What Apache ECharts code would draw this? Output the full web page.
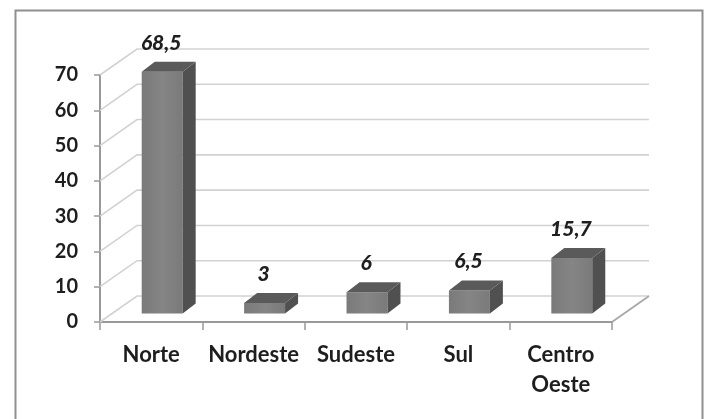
<!DOCTYPE html>
<html>
<head>
<meta charset="utf-8">
<script src="https://cdn.jsdelivr.net/npm/echarts@6/dist/echarts.min.js"></script>
<style>
html,body{margin:0;padding:0;background:#fff;}
#chart{width:707px;height:419px;}
</style>
</head>
<body>
<div id="chart"></div>
<script>
// ---- data ----
const categories = ['Norte', 'Nordeste', 'Sudeste', 'Sul', 'Centro\nOeste'];
const values = [68.5, 3, 6, 6.5, 15.7];
const yTicks = [0, 10, 20, 30, 40, 50, 60, 70];

// ---- style constants ----
const FONT = 'Lato, "Open Sans", sans-serif';
const TEXT = '#1e1e1e';
const WALL_D = [37, -26];   // back wall depth offset
const BAR_O = [11, -8.5];   // bar offset from front plane
const BAR_D = [13, -10];    // bar depth

const chart = echarts.init(document.getElementById('chart'), null, {renderer: 'canvas'});

const option = {
  backgroundColor: '#fff',
  animation: false,
  graphic: [{
    type: 'rect', left: 13, top: 8, z: 100,
    shape: {width: 687, height: 480},
    style: {fill: 'none', stroke: '#8f8f8f', lineWidth: 2}
  }],
  grid: {left: 100, top: 75, width: 512, height: 247},
  xAxis: {
    type: 'category',
    data: categories,
    axisLine: {lineStyle: {color: '#999', width: 2}},
    axisTick: {show: true, length: 8, lineStyle: {color: '#999', width: 1.5}},
    axisLabel: {
      interval: 0, hideOverlap: false,
      color: TEXT, fontFamily: FONT, fontWeight: 'bold', fontSize: 22,
      lineHeight: 30, margin: 18
    },
    splitLine: {show: false}
  },
  yAxis: {
    type: 'value', min: 0, max: 70, interval: 10,
    axisLine: {show: true, lineStyle: {color: '#999', width: 2}},
    axisTick: {show: true, length: 6, lineStyle: {color: '#999', width: 1.5}},
    axisLabel: {color: TEXT, fontFamily: FONT, fontWeight: 'bold', fontSize: 20, margin: 22},
    splitLine: {show: false}
  },
  series: [
    {
      // side wall diagonals + back wall gridlines
      type: 'custom', z: 1, silent: true,
      data: yTicks.map(t => [0, t]),
      renderItem: function (params, api) {
        const cs = params.coordSys;
        const y = api.coord([0, api.value(1)])[1];
        const x0 = cs.x;
        return {
          type: 'polyline',
          shape: {points: [[x0, y], [x0 + WALL_D[0], y + WALL_D[1]], [x0 + cs.width + WALL_D[0], y + WALL_D[1]]]},
          style: {stroke: '#d2d2d2', lineWidth: 1.6, fill: 'none'}
        };
      }
    },
    {
      // floor right edge
      type: 'custom', z: 1, silent: true,
      data: [[0, 0]],
      renderItem: function (params, api) {
        const cs = params.coordSys;
        const yb = cs.y + cs.height;
        const xr = cs.x + cs.width;
        return {
          type: 'polyline',
          shape: {points: [[xr, yb], [xr + WALL_D[0], yb + WALL_D[1]]]},
          style: {stroke: '#a8a8a8', lineWidth: 1.8, fill: 'none'}
        };
      }
    },
    {
      // 3D bars
      type: 'custom', z: 3,
      data: values.map((v, i) => [i, v]),
      renderItem: function (params, api) {
        const i = api.value(0), v = api.value(1);
        const base = api.coord([i, 0]);
        const top = api.coord([i, v]);
        const bw = api.size([1, 0])[0] * 0.4;
        const cx = base[0] + BAR_O[0];
        const xl = cx - bw / 2, xr = cx + bw / 2;
        const yb = base[1] + BAR_O[1], yt = top[1] + BAR_O[1];
        const dx = BAR_D[0], dy = BAR_D[1];
        const label = String(v).replace('.', ',');
        return {
          type: 'group',
          children: [
            {type: 'rect', shape: {x: xl, y: yt, width: bw, height: yb - yt},
             style: {fill: {type: 'linear', x: 0, y: 0, x2: 1, y2: 0,
               colorStops: [{offset: 0, color: '#7a7a7a'}, {offset: 0.5, color: '#858585'}, {offset: 1, color: '#7a7a7a'}]}}},
            {type: 'polygon', shape: {points: [[xr, yt], [xr + dx, yt + dy], [xr + dx, yb + dy], [xr, yb]]},
             style: {fill: '#505050'}},
            {type: 'polygon', shape: {points: [[xl, yt], [xl + dx, yt + dy], [xr + dx, yt + dy], [xr, yt]]},
             style: {fill: '#5a5a5a'}},
            {type: 'text', x: cx - 1, y: yt + dy - 19,
             style: {text: label, fill: TEXT, font: 'italic 900 21px ' + FONT,
               align: 'center', verticalAlign: 'middle'}}
          ]
        };
      }
    }
  ]
};
chart.setOption(option);
</script>
</body>
</html>
